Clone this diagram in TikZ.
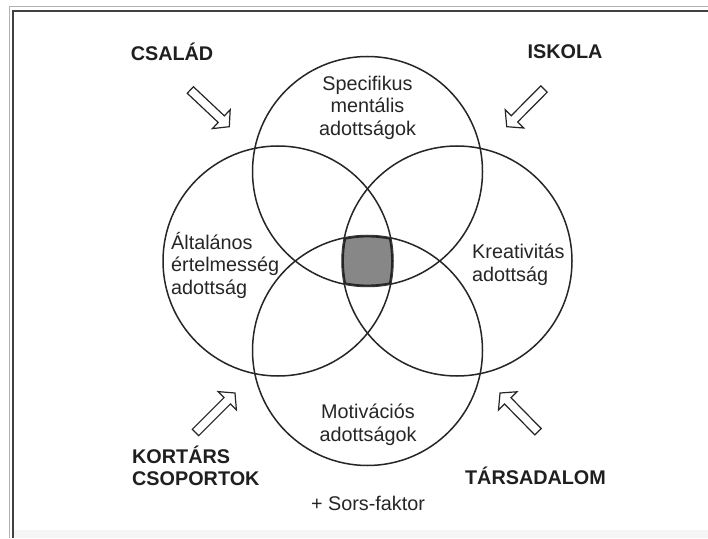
\documentclass[tikz,border=0pt]{standalone}
\usepackage{fontspec}
\setmainfont{Liberation Sans}
\usetikzlibrary{calc}

% hollow block arrow from a tail coordinate to a tip coordinate
\newcommand{\hollowarrow}[2]{%
  \draw[blockarrow] let \p1=(#1), \p2=(#2),
      \n1={atan2(\y2-\y1,\x2-\x1)}, \n2={veclen(\x2-\x1,\y2-\y1)} in
    [shift={(\p1)}, rotate=\n1]
    (0,-4.5) -- (\n2-11,-4.5) -- (\n2-11,-13) -- (\n2,0)
    -- (\n2-11,13) -- (\n2-11,4.5) -- (0,4.5) -- cycle;}

\begin{document}
\begin{tikzpicture}[x=1pt,y=1pt,
  ring/.style={circle, draw=black!85, line width=1.5pt, minimum size=230pt, inner sep=0pt},
  lbl/.style={font=\fontsize{19.8}{22.5}\selectfont, text=black!85, inner sep=0pt},
  factor/.style={font=\bfseries\fontsize{19.8}{22.5}\selectfont, text=black!88, inner sep=0pt},
  blockarrow/.style={draw=black!85, line width=1.2pt, fill=white, line join=miter}]
\useasboundingbox (0,0) rectangle (708,538);
\fill[white] (0,0) rectangle (708,538);

% frame
\fill[black!4] (13,0) rectangle (708,8);
\draw[black!30, line width=1.2pt] (9.5,0) -- (9.5,531.3) -- (708,531.3);
\draw[black!75, line width=2pt] (12.7,0) -- (12.7,527.3) -- (708,527.3);

% the four rings
\node[ring] (spec) at (367.5,366.5) {};
\node[ring] (gen)  at (278,277) {};
\node[ring] (crea) at (457,277) {};
\node[ring] (mot)  at (367.5,187.5) {};

% common core of all four rings
\begin{scope}
  \clip (spec.center) circle (115);
  \clip (gen.center) circle (115);
  \clip (crea.center) circle (115);
  \clip (mot.center) circle (115);
  \fill[black!47] (mot.center) circle (115);
  \foreach \c in {spec,gen,crea,mot}
    \draw[black!85, line width=3.8pt] (\c.center) circle (115);
\end{scope}

% ring texts
\node[lbl, align=center] (spectext) at (367.5,430.5) {Specifikus\\mentális\\adottságok};
\node[lbl, align=left, anchor=west] (gentext) at (171,273) {Általános\\értelmesség\\adottság};
\node[lbl, align=left, anchor=west] (creatext) at (472,273) {Kreativitás\\adottság};
\node[lbl, align=center] (mottext) at (368,113) {Motivációs\\adottságok};
\node[lbl] (sors) at (368,35) {+ Sors-faktor};

% outer factors
\node[factor] (csalad) at (172,486) {CSALÁD};
\node[factor] (iskola) at (565,486) {ISKOLA};
\node[factor, align=left, anchor=west] (kortars) at (132,72) {KORTÁRS\\CSOPORTOK};
\node[factor] (tarsadalom) at (535.5,62) {TÁRSADALOM};

% arrows pointing inwards
\coordinate (a1tail) at (190.3,448);  \coordinate (a1tip) at (229.3,411.3);
\coordinate (a2tail) at (544,449);    \coordinate (a2tip) at (506.7,411.3);
\coordinate (a3tail) at (195.5,105.5);\coordinate (a3tip) at (235,145);
\coordinate (a4tail) at (538,106.3);  \coordinate (a4tip) at (500,145);
\hollowarrow{a1tail}{a1tip}
\hollowarrow{a2tail}{a2tip}
\hollowarrow{a3tail}{a3tip}
\hollowarrow{a4tail}{a4tip}
\end{tikzpicture}
\end{document}
